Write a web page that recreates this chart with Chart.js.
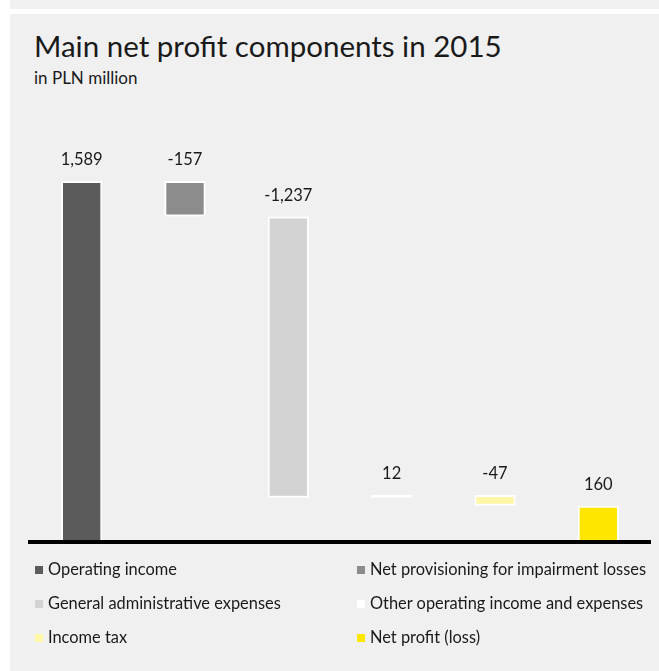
<!DOCTYPE html>
<html>
<head>
<meta charset="utf-8">
<script src="https://cdn.jsdelivr.net/npm/chart.js@4.4.1/dist/chart.umd.min.js"></script>
<style>
    html, body { margin: 0; padding: 0; background: #ffffff; }
    body { width: 659px; height: 671px; position: relative; overflow: hidden; font-family: 'Lato', sans-serif; color: #1a1a1a; }
    #strip { position: absolute; left: 10px; top: 0; width: 649px; height: 9px; background: #f0f0f0; }
    #panel { position: absolute; left: 10px; top: 14px; width: 649px; height: 657px; background: #f0f0f0; }
    #title { position: absolute; left: 34px; top: 28px; font-size: 29.5px; font-weight: 400; white-space: nowrap; }
    #subtitle { position: absolute; left: 34px; top: 67px; font-size: 17px; white-space: nowrap; }
    #chart { position: absolute; left: 0; top: 0; }
    .lg { position: absolute; font-size: 16.4px; white-space: nowrap; line-height: 20px; }
    .lg i { display: inline-block; width: 8px; height: 8px; margin-right: 5px; vertical-align: 1px; }
</style>
</head>
<body>
<div id="strip"></div>
<div id="panel"></div>
<div id="title">Main net profit components in 2015</div>
<div id="subtitle">in PLN million</div>
<canvas id="chart" width="659" height="671"></canvas>
<div id="legend"></div>
<script>
    'use strict';

    // components of the waterfall, in PLN million
    const categories = [
        'Operating income',
        'Net provisioning for impairment losses',
        'General administrative expenses',
        'Other operating income and expenses',
        'Income tax',
        'Net profit (loss)',
    ];
    const changes = [1589, -157, -1237, 12, -47, 160];
    const valueLabels = ['1,589', '-157', '-1,237', '12', '-47', '160'];
    const colours = ['#5b5b5b', '#8c8c8c', '#d3d3d3', '#ffffff', '#fff7a6', '#ffe600'];

    // floating bars: running total for the components, last one from zero
    const ranges = [];
    let running = 0;
    changes.forEach(function (v, i) {
        if (i === changes.length - 1) {
            ranges.push([0, v]);
        } else {
            ranges.push([running, running + v]);
            running += v;
        }
    });

    const valueLabelPlugin = {
        id: 'valueLabels',
        afterDatasetsDraw: function (chart) {
            const ctx = chart.ctx;
            const meta = chart.getDatasetMeta(0);
            ctx.save();
            ctx.font = '16.5px Lato, sans-serif';
            ctx.fillStyle = '#1a1a1a';
            ctx.textAlign = 'center';
            ctx.textBaseline = 'middle';
            meta.data.forEach(function (bar, i) {
                const top = Math.min(bar.y, bar.base);
                ctx.fillText(valueLabels[i], bar.x, top - 21);
            });
            ctx.restore();
        },
    };

    new Chart(document.getElementById('chart'), {
        type: 'bar',
        data: {
            labels: categories,
            datasets: [{
                data: ranges,
                backgroundColor: colours,
                borderColor: '#ffffff',
                borderWidth: 2,
                borderSkipped: false,
                barPercentage: 0.4,
                categoryPercentage: 1,
            }],
        },
        options: {
            responsive: false,
            animation: false,
            layout: { padding: { left: 30, right: 9, top: 133, bottom: 121 } },
            plugins: { legend: { display: false }, tooltip: { enabled: false } },
            scales: {
                x: {
                    grid: { display: false },
                    ticks: { display: false },
                    border: { display: true, color: '#000000', width: 4, z: 1 },
                },
                y: { display: false, min: 0, max: 1800 },
            },
        },
        plugins: [valueLabelPlugin],
    });

    // two-column legend built from the same arrays
    const legend = document.getElementById('legend');
    categories.forEach(function (name, i) {
        const el = document.createElement('div');
        el.className = 'lg';
        el.style.left = (i % 2 === 0 ? 35 : 357) + 'px';
        el.style.top = (559 + Math.floor(i / 2) * 34) + 'px';
        el.innerHTML = '<i style="background:' + colours[i] + '"></i>' + name;
        legend.appendChild(el);
    });
</script>
</body>
</html>
